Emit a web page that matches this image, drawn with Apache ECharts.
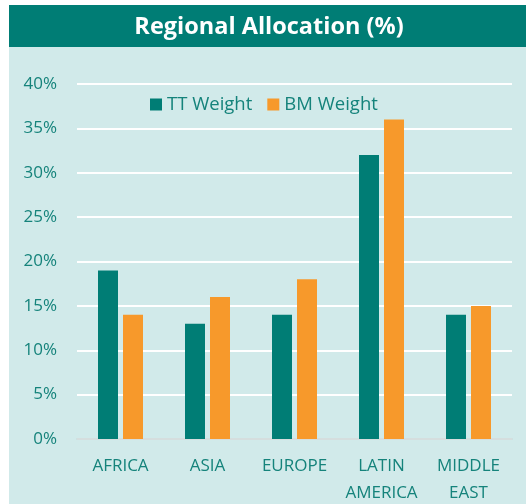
<!DOCTYPE html>
<html>
<head>
<meta charset="utf-8">
<script src="https://cdn.jsdelivr.net/npm/echarts@6/dist/echarts.min.js"></script>
<style>
  html, body { margin: 0; padding: 0; background: #fff; }
  #chart { width: 529px; height: 504px; }
</style>
</head>
<body>
<div id="chart"></div>
<script>
var regions = ['AFRICA', 'ASIA', 'EUROPE', 'LATIN\nAMERICA', 'MIDDLE\nEAST']
var ttWeight = [19, 13, 14, 32, 14]
var bmWeight = [14, 16, 18, 36, 15]

var teal = '#007d75'
var textTeal = '#15837b'

var myChart = echarts.init(document.getElementById('chart'))
var option = {
  backgroundColor: '#ffffff',
  graphic: [
    // panel background
    { type: 'rect', shape: { x: 9, y: 5, width: 517, height: 499 }, style: { fill: '#d1eaea' }, z: -10 },
    // title band
    { type: 'rect', shape: { x: 9, y: 5, width: 517, height: 42 }, style: { fill: teal }, z: -9 }
  ],
  title: {
    text: 'Regional Allocation (%)',
    left: 264,
    top: 10,
    textAlign: 'center',
    textStyle: { color: '#ffffff', fontSize: 23.5, fontWeight: 'bold', fontFamily: 'Open Sans' }
  },
  legend: {
    data: ['TT Weight', 'BM Weight'],
    left: 145,
    top: 90,
    itemWidth: 12,
    itemHeight: 12,
    itemGap: 15,
    icon: 'rect',
    textStyle: { color: textTeal, fontSize: 18.5, fontFamily: 'Open Sans' }
  },
  grid: { left: 77, right: 17, top: 84, bottom: 65, outerBoundsMode: 'none' },
  xAxis: {
    type: 'category',
    data: regions,
    axisLine: { lineStyle: { color: '#c8d4d4', width: 1.5 } },
    axisTick: { show: false },
    axisLabel: { interval: 0, color: textTeal, fontSize: 17, fontFamily: 'Open Sans', lineHeight: 27, margin: 14 }
  },
  yAxis: {
    type: 'value',
    min: 0,
    max: 40,
    interval: 5,
    axisLine: { show: false },
    axisTick: { show: false },
    splitLine: { lineStyle: { color: '#ffffff', width: 2 } },
    axisLabel: { color: textTeal, fontSize: 17, fontFamily: 'Open Sans', margin: 20, formatter: '{value}%' }
  },
  series: [{
    name: 'TT Weight',
    type: 'bar',
    data: ttWeight,
    barWidth: 20,
    barGap: '25%',
    itemStyle: { color: teal }
  }, {
    name: 'BM Weight',
    type: 'bar',
    data: bmWeight,
    barWidth: 20,
    itemStyle: { color: '#f7992b' }
  }]
}
myChart.setOption(option)
</script>
</body>
</html>
